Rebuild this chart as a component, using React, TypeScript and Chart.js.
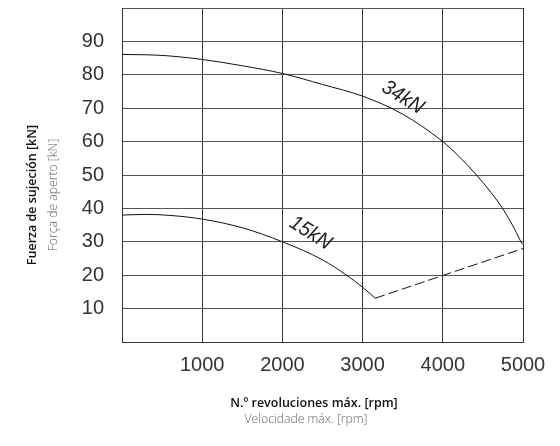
import React, { useEffect, useRef } from "react";
import { Chart, registerables } from "chart.js";

Chart.register(...registerables);

const rpm34 = [0, 500, 1000, 1500, 2000, 2500, 3000, 3500, 4000, 4200, 4420, 4600, 4745, 4900, 4975, 5000];
const force34 = [86.1, 85.8, 84.6, 82.7, 80.4, 77.1, 73.6, 68.2, 60, 55.6, 50, 44.8, 40, 33.6, 30, 29.2];

const rpm15 = [0, 300, 600, 1000, 1500, 2000, 2500, 2800, 3000, 3157];
const force15 = [38.0, 38.2, 37.9, 36.8, 34.2, 30.0, 24.6, 20.0, 16.4, 13.1];

const rpmDash = [3157, 5000];
const forceDash = [13.1, 28];

const xTicks = [1000, 2000, 3000, 4000, 5000];
const yTicks = [10, 20, 30, 40, 50, 60, 70, 80, 90];

const curveLabels = [
  { text: "34kN", x: 3500, y: 73.2 },
  { text: "15kN", x: 2350, y: 32.6 },
];

const yTitle = ["Fuerza de sujeción [kN]", "Força de aperto [kN]"];
const xTitle = ["N.º revoluciones máx. [rpm]", "Velocidade máx. [rpm]"];

const toPts = (xs: number[], ys: number[]) => xs.map((x, i) => ({ x, y: ys[i] }));

const titlesPlugin = {
  id: "titles",
  afterDraw(chart: any) {
    const ctx = chart.ctx;
    const xs = chart.scales.x;
    const ys = chart.scales.y;
    ctx.save();
    ctx.fillStyle = "#222";
    ctx.font = "italic 21px 'Liberation Sans', Arial, sans-serif";
    ctx.textAlign = "center";
    ctx.textBaseline = "middle";
    for (const l of curveLabels) {
      const px = xs.getPixelForValue(l.x);
      const py = ys.getPixelForValue(l.y);
      ctx.save();
      ctx.translate(px, py);
      ctx.rotate((32 * Math.PI) / 180);
      ctx.scale(0.92, 1);
      ctx.fillText(l.text, 0, 0);
      ctx.restore();
    }
    const cy = (ys.top + ys.bottom) / 2 + 20;
    ctx.save();
    ctx.translate(32, cy);
    ctx.rotate(-Math.PI / 2);
    ctx.fillStyle = "#111";
    ctx.font = "600 12.5px 'Open Sans', sans-serif";
    ctx.fillText(yTitle[0], 0, 0);
    ctx.restore();
    ctx.save();
    ctx.translate(54, cy);
    ctx.rotate(-Math.PI / 2);
    ctx.fillStyle = "#666";
    ctx.font = "300 12.2px 'Open Sans', sans-serif";
    ctx.fillText(yTitle[1], 0, 0);
    ctx.restore();
    ctx.fillStyle = "#111";
    ctx.font = "600 12.5px 'Open Sans', sans-serif";
    ctx.fillText(xTitle[0], 314, 403);
    ctx.fillStyle = "#666";
    ctx.font = "300 12.2px 'Open Sans', sans-serif";
    ctx.fillText(xTitle[1], 306, 420);
    ctx.restore();
  },
};

export default function App() {
  const ref = useRef<HTMLCanvasElement>(null);
  useEffect(() => {
    const chart = new Chart(ref.current!, {
      type: "scatter",
      data: {
        datasets: [
          {
            data: toPts(rpm34, force34),
            showLine: true,
            borderColor: "#111",
            borderWidth: 1,
            pointRadius: 0,
            cubicInterpolationMode: "monotone",
          },
          {
            data: toPts(rpm15, force15),
            showLine: true,
            borderColor: "#111",
            borderWidth: 1,
            pointRadius: 0,
            cubicInterpolationMode: "monotone",
          },
          {
            data: toPts(rpmDash, forceDash),
            showLine: true,
            borderColor: "#111",
            borderWidth: 1,
            borderDash: [10, 4],
            pointRadius: 0,
          },
        ] as any,
      },
      options: {
        animation: false,
        responsive: true,
        maintainAspectRatio: false,
        layout: { padding: { left: 0, top: 8, right: 37, bottom: 0 } },
        plugins: { legend: { display: false }, tooltip: { enabled: false } },
        scales: {
          x: {
            type: "linear",
            min: 0,
            max: 5000,
            afterBuildTicks: (s: any) => {
              s.ticks = [0, ...xTicks].map((v) => ({ value: v }));
            },
            afterFit: (s: any) => {
              s.height = 104;
              s.paddingLeft = 0;
              s.paddingRight = 0;
            },
            grid: { color: "#333", lineWidth: 1, drawTicks: false },
            border: { color: "#333", width: 1 },
            ticks: {
              padding: 11,
              color: "#333",
              font: { family: "'Liberation Sans', Arial", size: 20 },
              callback: (v: any) => (xTicks.includes(v) ? String(v) : ""),
              maxRotation: 0,
            },
          },
          y: {
            type: "linear",
            min: 0,
            max: 100,
            afterBuildTicks: (s: any) => {
              s.ticks = [0, ...yTicks, 100].map((v) => ({ value: v }));
            },
            afterFit: (s: any) => {
              s.width = 122;
              s.paddingTop = 0;
              s.paddingBottom = 0;
            },
            grid: { color: "#555", lineWidth: 1, drawTicks: false },
            border: { color: "#333", width: 1 },
            ticks: {
              padding: 18,
              color: "#333",
              font: { family: "'Liberation Sans', Arial", size: 20 },
              callback: (v: any) => (yTicks.includes(v) ? String(v) : ""),
            },
          },
        },
      },
      plugins: [titlesPlugin],
    });
    return () => chart.destroy();
  }, []);
  return (
    <div style={{ position: "absolute", left: 0, top: 0, width: 560, height: 446, background: "#fff" }}>
      <canvas ref={ref} />
    </div>
  );
}
